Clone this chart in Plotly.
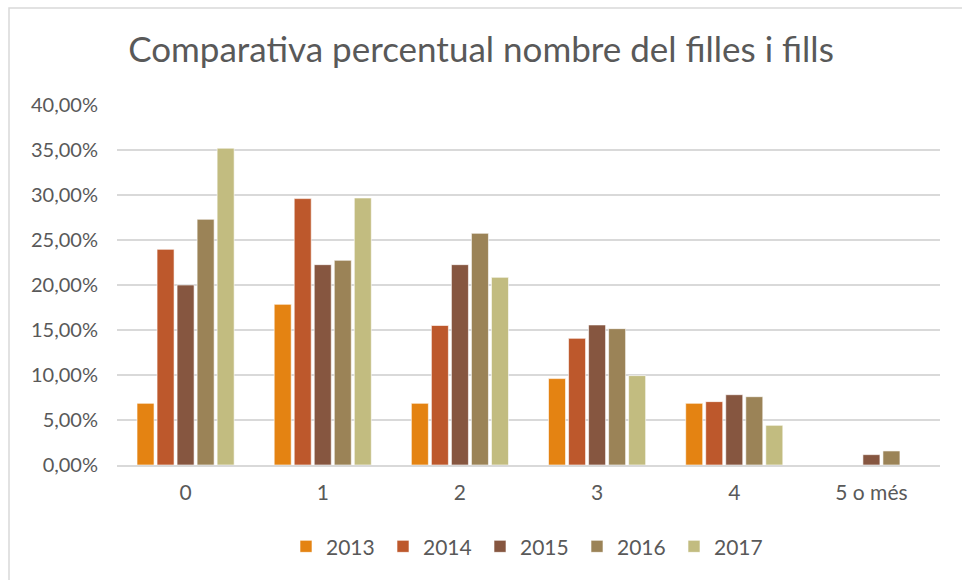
import plotly.graph_objects as go

categories = ["0", "1", "2", "3", "4", "5 o més"]
years = ["2013", "2014", "2015", "2016", "2017"]

v2013 = [6.85, 17.85, 6.85, 9.60, 6.85, 0.0]
v2014 = [23.96, 29.60, 15.50, 14.07, 7.04, 0.0]
v2015 = [20.00, 22.26, 22.26, 15.56, 7.81, 1.15]
v2016 = [27.30, 22.74, 25.74, 15.15, 7.59, 1.56]
v2017 = [35.20, 29.67, 20.85, 9.93, 4.41, 0.0]

colors = ["#E48312", "#BD582C", "#865640", "#9B8357", "#C2BC80"]

tick_vals = [0, 5, 10, 15, 20, 25, 30, 35, 40]
tick_text = ["0,00%", "5,00%", "10,00%", "15,00%", "20,00%",
             "25,00%", "30,00%", "35,00%", "40,00%"]

FONT = "Lato, 'Open Sans', sans-serif"
W, H = 962, 580
ML, MR, MT, MB = 117, 22, 105, 115

fig = go.Figure()
for year, vals, col in zip(years, [v2013, v2014, v2015, v2016, v2017], colors):
    fig.add_trace(go.Bar(
        x=categories, y=vals, name=year,
        marker=dict(color=col, line=dict(color="rgba(255,255,255,0.6)", width=1)),
    ))

# outer chart border (only top/left visible in the frame)
pw, ph = W - ML - MR, H - MT - MB
fig.add_shape(type="rect", xref="paper", yref="paper", layer="below",
              x0=(9 - ML) / pw, x1=(W + 20 - ML) / pw,
              y0=(H - MB - (H + 20)) / ph, y1=(H - MB - 8) / ph,
              line=dict(color="#D9D9D9", width=1.5), fillcolor="rgba(0,0,0,0)")

fig.update_layout(
    width=W, height=H,
    margin=dict(l=ML, r=MR, t=MT, b=MB, autoexpand=False),
    plot_bgcolor="white", paper_bgcolor="white",
    barmode="group", bargap=0.27, bargroupgap=0.15,
    font=dict(family=FONT, color="#595959", size=20),
    title=dict(text="Comparativa percentual nombre del filles i fills",
               x=0.5, xanchor="center", y=0.915, yanchor="middle",
               font=dict(size=35, color="#595959", family=FONT)),
    legend=dict(orientation="h", x=0.5, xanchor="center", y=-0.17, yanchor="top",
                font=dict(size=21, color="#595959"), itemwidth=30,
                entrywidth=52, entrywidthmode="pixels",
                traceorder="normal"),
    showlegend=True,
)
fig.update_xaxes(showgrid=False, showline=True, linecolor="#D9D9D9", linewidth=2,
                 ticks="", tickfont=dict(size=21), ticklabelstandoff=8)
fig.update_yaxes(range=[0, 40], tickvals=tick_vals, ticktext=tick_text,
                 showgrid=True, gridcolor="#D9D9D9", gridwidth=1.5,
                 zeroline=False, showline=False, ticks="",
                 tickfont=dict(size=20), ticklabelstandoff=18)

fig.write_html("out.html", config={"displayModeBar": False},
               post_script="document.body.style.margin='0';")
